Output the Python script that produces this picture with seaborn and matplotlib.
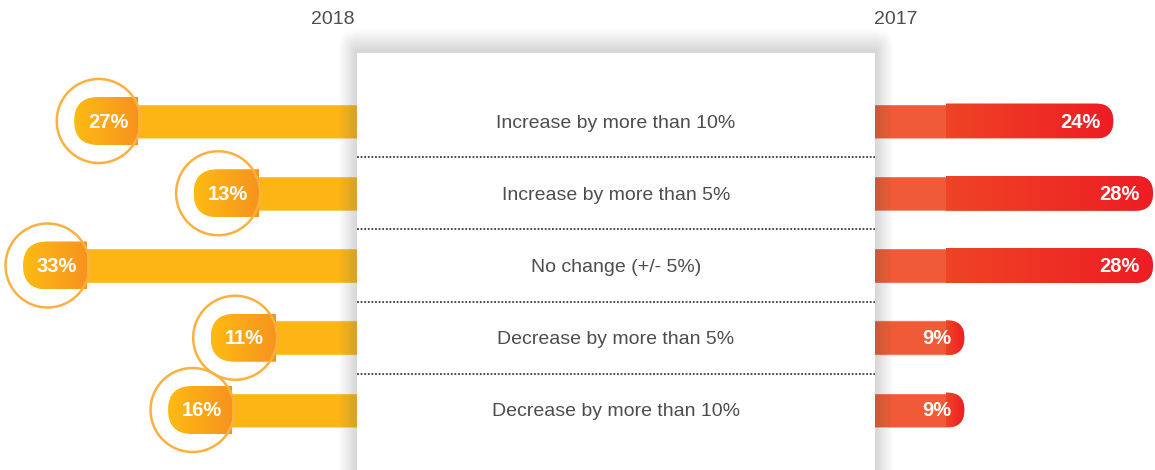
import numpy as np
import pandas as pd
import matplotlib
matplotlib.use("Agg")
import matplotlib.pyplot as plt
from matplotlib.patches import FancyBboxPatch, Circle, Rectangle
from matplotlib.colors import LinearSegmentedColormap
import seaborn as sns

# ---------------- data ----------------
categories = [
    "Increase by more than 10%",
    "Increase by more than 5%",
    "No change (+/- 5%)",
    "Decrease by more than 5%",
    "Decrease by more than 10%",
]
values_2018 = [27, 13, 33, 11, 16]
values_2017 = [24, 28, 28, 9, 9]
year_labels = ["2018", "2017"]

# ---------------- style ----------------
sns.set_theme(style="white")
plt.rcParams["font.family"] = ["Liberation Sans", "DejaVu Sans"]

W, H = 1155, 470
PANEL_L, PANEL_R, PANEL_T = 357, 875, 53
ROW0, ROW_STEP = 121, 72.25
BAR_PX = 35
TEXT_C = "#4D4D4D"
YELLOW = "#FDB515"
RED_BASE = "#F15A36"
RING_C = "#FBB040"

fig = plt.figure(figsize=(W / 100, H / 100), dpi=100)
fig.patch.set_facecolor("white")

ylim = ((H - ROW0) / ROW_STEP, -ROW0 / ROW_STEP)

ax_l = fig.add_axes([0, 0, PANEL_L / W, 1])
ax_r = fig.add_axes([PANEL_R / W, 0, (W - PANEL_R) / W, 1])
canvas = fig.add_axes([0, 0, 1, 1], zorder=5)
canvas.patch.set_alpha(0)

df = pd.DataFrame({"category": categories, "y2018": values_2018, "y2017": values_2017})
bar_w = BAR_PX / ROW_STEP

sns.barplot(data=df, x="y2018", y="category", orient="h", color=YELLOW,
            saturation=1, width=bar_w, errorbar=None, ax=ax_l)
sns.barplot(data=df, x="y2017", y="category", orient="h", color=RED_BASE,
            saturation=1, width=bar_w, errorbar=None, ax=ax_r)

for ax, xl in ((ax_l, (35.7, -6.15)), (ax_r, (0, 28.2))):
    ax.set_xlim(*xl)
    ax.set_ylim(*ylim)
    ax.axis("off")

canvas.set_xlim(0, W)
canvas.set_ylim(H, 0)
canvas.axis("off")


def to_canvas(ax, x, y):
    return canvas.transData.inverted().transform(ax.transData.transform((x, y)))


grad = np.linspace(0, 1, 256)[None, :]
cmap_pill = LinearSegmentedColormap.from_list("pill", ["#FDBB13", "#F7931E"])
cmap_red = LinearSegmentedColormap.from_list("red", ["#EF4425", "#ED1C24"])

# ---------- left (2018) ----------
for i, (patch, v) in enumerate(zip(ax_l.patches, values_2018)):
    pl, yc = to_canvas(ax_l, v, i)
    patch.set_x(-10)
    patch.set_width(v + 10)
    bar_shape = FancyBboxPatch((pl, yc - BAR_PX / 2), PANEL_L + 40 - pl, BAR_PX,
                               boxstyle=f"round,pad=0,rounding_size={BAR_PX/2}",
                               transform=canvas.transData)
    patch.set_clip_path(bar_shape)

    pill_h = 48
    pill_shape = FancyBboxPatch((pl, yc - pill_h / 2), 120, pill_h,
                                boxstyle=f"round,pad=0,rounding_size={pill_h/2}",
                                transform=canvas.transData)
    im = canvas.imshow(grad, cmap=cmap_pill, extent=(pl, pl + 64, yc + pill_h / 2, yc - pill_h / 2),
                       aspect="auto", interpolation="bilinear", zorder=2)
    im.set_clip_path(pill_shape)
    canvas.add_patch(Circle((pl + 24.5, yc), 42, fill=False, ec=RING_C, lw=1.8, zorder=3))
    canvas.text(pl + 34, yc + 1, f"{v}%", ha="center", va="center", color="white",
                fontsize=14.5, fontweight="bold", zorder=4)

# ---------- right (2017) ----------
for i, (patch, v) in enumerate(zip(ax_r.patches, values_2017)):
    end, yc = to_canvas(ax_r, v, i)
    patch.set_x(-3)
    patch.set_width(v + 3)
    shape = FancyBboxPatch((PANEL_R - 40, yc - BAR_PX / 2), end - (PANEL_R - 40), BAR_PX,
                           boxstyle=f"round,pad=0,rounding_size={BAR_PX/2}",
                           transform=canvas.transData)
    patch.set_clip_path(shape)
    im = canvas.imshow(grad, cmap=cmap_red, extent=(PANEL_R + 71, end + 1, yc + BAR_PX / 2, yc - BAR_PX / 2),
                       aspect="auto", interpolation="bilinear", zorder=2)
    shape2 = FancyBboxPatch((PANEL_R - 40, yc - BAR_PX / 2), end - (PANEL_R - 40), BAR_PX,
                            boxstyle=f"round,pad=0,rounding_size={BAR_PX/2}",
                            transform=canvas.transData)
    im.set_clip_path(shape2)
    canvas.text(end - 13, yc + 1, f"{v}%", ha="right", va="center", color="white",
                fontsize=14.5, fontweight="bold", zorder=4)

# ---------- panel shadow & panel ----------
n_layers = 20
for k in range(1, n_layers + 1):
    pad = k * 0.9
    canvas.add_patch(FancyBboxPatch((PANEL_L - pad, PANEL_T - 1.2 * pad - 2), PANEL_R - PANEL_L + 2 * pad, H,
                                    boxstyle=f"round,pad=0,rounding_size={pad}",
                                    fc="#6A7082", ec="none", alpha=0.010, zorder=5))
canvas.add_patch(Rectangle((PANEL_L, PANEL_T), PANEL_R - PANEL_L, H, fc="white", ec="none", zorder=6))

for i, cat in enumerate(categories):
    _, yc = to_canvas(ax_l, 0, i)
    canvas.text((PANEL_L + PANEL_R) / 2, yc + 2, cat, ha="center", va="center",
                color=TEXT_C, fontsize=14, zorder=7)
for i in range(len(categories) - 1):
    _, yd = to_canvas(ax_l, 0, i + 0.5)
    canvas.plot([PANEL_L, PANEL_R], [yd, yd], color="#3D3D3D", lw=1.3,
                linestyle=(0, (1, 1.0)), zorder=7)

canvas.set_xlim(0, W)
canvas.set_ylim(H, 0)

canvas.text(333, 19, year_labels[0], ha="center", va="center", color=TEXT_C, fontsize=14)
canvas.text(896, 19, year_labels[1], ha="center", va="center", color=TEXT_C, fontsize=14)

fig.savefig("out.png", dpi=100, facecolor="white")
